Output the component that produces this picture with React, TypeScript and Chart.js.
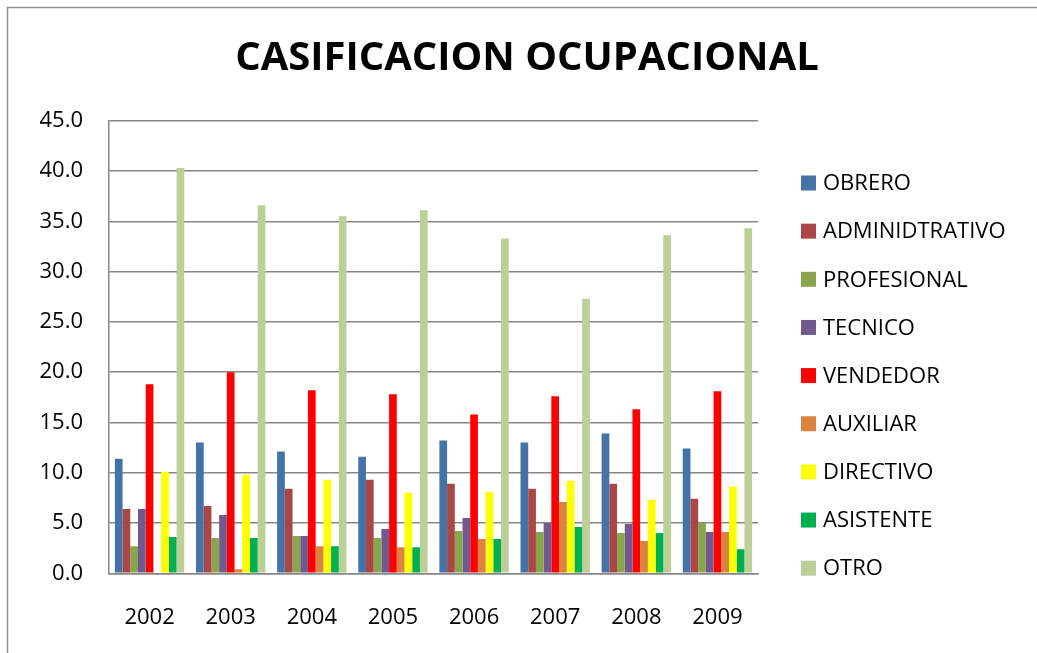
import React, { useEffect, useRef } from "react";
import { Chart, registerables } from "chart.js";

Chart.register(...registerables);

const years = ["2002", "2003", "2004", "2005", "2006", "2007", "2008", "2009"];
const seriesNames = [
  "OBRERO",
  "ADMINIDTRATIVO",
  "PROFESIONAL",
  "TECNICO",
  "VENDEDOR",
  "AUXILIAR",
  "DIRECTIVO",
  "ASISTENTE",
  "OTRO",
];
const obrero = [11.4, 13.0, 12.1, 11.6, 13.2, 13.0, 13.9, 12.4];
const administrativo = [6.4, 6.7, 8.4, 9.3, 8.9, 8.4, 8.9, 7.4];
const profesional = [2.7, 3.5, 3.7, 3.5, 4.2, 4.1, 4.0, 5.0];
const tecnico = [6.4, 5.8, 3.7, 4.4, 5.5, 5.0, 4.9, 4.1];
const vendedor = [18.8, 20.0, 18.2, 17.8, 15.8, 17.6, 16.3, 18.1];
const auxiliar = [0, 0.4, 2.7, 2.6, 3.4, 7.1, 3.2, 4.1];
const directivo = [10.1, 9.8, 9.3, 8.0, 8.1, 9.2, 7.3, 8.6];
const asistente = [3.6, 3.5, 2.7, 2.6, 3.4, 4.6, 4.0, 2.4];
const otro = [40.3, 36.6, 35.5, 36.1, 33.3, 27.3, 33.6, 34.3];
const yTicks = [0, 5, 10, 15, 20, 25, 30, 35, 40, 45];

const seriesValues = [obrero, administrativo, profesional, tecnico, vendedor, auxiliar, directivo, asistente, otro];
const seriesColors = [
  "#4572A7",
  "#AA4643",
  "#89A54E",
  "#71588F",
  "#FF0000",
  "#DB843D",
  "#FFFF00",
  "#00B050",
  "#BBCF96",
];

const FONT = "'Open Sans', 'Noto Sans', sans-serif";

const framePlugin = {
  id: "frame",
  beforeDraw(chart: any) {
    const ctx = chart.ctx;
    ctx.save();
    ctx.fillStyle = "#ffffff";
    ctx.fillRect(0, 0, chart.width, chart.height);
    ctx.strokeStyle = "#8f8f8f";
    ctx.lineWidth = 1.5;
    ctx.beginPath();
    ctx.moveTo(7.5, chart.height + 2);
    ctx.lineTo(7.5, 7.5);
    ctx.lineTo(chart.width + 2, 7.5);
    ctx.stroke();
    ctx.restore();
  },
};

const legendPlugin = {
  id: "sideLegend",
  afterDraw(chart: any) {
    const ctx = chart.ctx;
    ctx.save();
    ctx.font = `22px ${FONT}`;
    ctx.textBaseline = "middle";
    ctx.textAlign = "left";
    chart.data.datasets.forEach((ds: any, i: number) => {
      const y = 183 + i * 48.15;
      ctx.fillStyle = ds.backgroundColor;
      ctx.fillRect(801, y - 7.5, 15, 15);
      ctx.fillStyle = "#000000";
      ctx.fillText(ds.label, 823, y + 1);
    });
    ctx.restore();
  },
};

export default function App() {
  const ref = useRef<HTMLCanvasElement | null>(null);
  useEffect(() => {
    if (!ref.current) return;
    const chart = new Chart(ref.current, {
      type: "bar",
      data: {
        labels: years,
        datasets: seriesNames.map((name, i) => ({
          label: name,
          data: seriesValues[i],
          backgroundColor: seriesColors[i],
          borderWidth: 0,
          categoryPercentage: 0.855,
          barPercentage: 1.0,
        })),
      },
      options: {
        animation: false,
        responsive: false,
        layout: { padding: { left: 17, right: 0, top: 0, bottom: 0 } },
        plugins: {
          legend: { display: false },
          tooltip: { enabled: false },
          title: {
            display: true,
            text: "CASIFICACION OCUPACIONAL",
            color: "#000000",
            font: { family: FONT, size: 40, weight: "bold" },
            padding: { top: 35, bottom: 37.7 },
          },
        },
        scales: {
          x: {
            grid: { display: false, drawTicks: false },
            border: { display: true, color: "#878787", width: 1.5 },
            ticks: { color: "#000000", font: { family: FONT, size: 22 }, padding: 31 },
            afterFit: (s: any) => {
              s.height = 79.7;
            },
          },
          y: {
            min: 0,
            max: 45,
            afterBuildTicks: (s: any) => {
              s.ticks = yTicks.map((v) => ({ value: v }));
            },
            grid: { color: "#878787", lineWidth: 1.5, drawTicks: false },
            border: { display: true, color: "#878787", width: 1.5 },
            ticks: {
              color: "#000000",
              font: { family: FONT, size: 22 },
              padding: 26,
              callback: (v: any) => Number(v).toFixed(1),
            },
            afterFit: (s: any) => {
              s.width = 92;
            },
          },
          legendSpace: {
            type: "linear",
            position: "right",
            display: true,
            grid: { display: false, drawTicks: false },
            border: { display: false },
            ticks: { display: false },
            afterFit: (s: any) => {
              s.width = 279;
            },
          },
        },
      },
      plugins: [framePlugin, legendPlugin],
    });
    return () => chart.destroy();
  }, []);
  return (
    <div style={{ position: "fixed", left: 0, top: 0, width: 1037, height: 653, background: "#fff" }}>
      <canvas ref={ref} width={1037} height={653} style={{ display: "block" }} />
    </div>
  );
}
